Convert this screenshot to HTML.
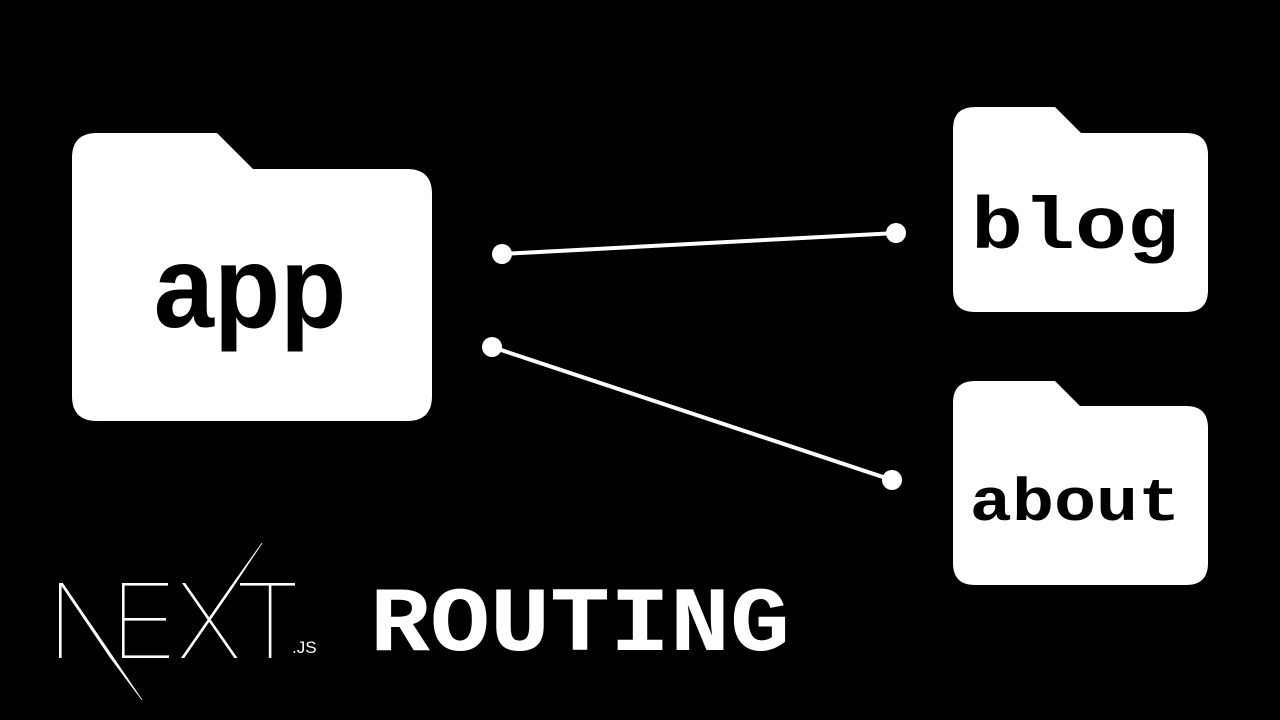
<!DOCTYPE html>
<html>
<head>
<meta charset="utf-8">
<style>
html,body{margin:0;padding:0;background:#000;width:1280px;height:720px;overflow:hidden;}
svg{display:block;}
</style>
</head>
<body>
<svg width="1280" height="720" viewBox="0 0 1280 720" xmlns="http://www.w3.org/2000/svg">
  <rect x="0" y="0" width="1280" height="720" fill="#000"/>

  <!-- app folder -->
  <path fill="#fff" d="M97,133 L217,133 L253,169 L407,169 Q432,169 432,194 L432,396 Q432,421 407,421 L97,421 Q72,421 72,396 L72,158 Q72,133 97,133 Z"/>
  <text transform="translate(250,327) scale(0.95,1.03)" font-family="'Liberation Sans', Arial, sans-serif" font-weight="bold" font-size="114" text-anchor="middle" fill="#000">app</text>

  <!-- blog folder -->
  <path fill="#fff" d="M975,107 L1055,107 L1081,133 L1186,133 Q1208,133 1208,155 L1208,290 Q1208,312 1186,312 L975,312 Q953,312 953,290 L953,129 Q953,107 975,107 Z"/>
  <text transform="translate(1075,248) scale(1.14,0.97)" font-family="'Liberation Mono', monospace" font-weight="bold" font-size="76" text-anchor="middle" fill="#000">blog</text>

  <!-- about folder -->
  <path fill="#fff" d="M975,381 L1055,381 L1080,406 L1186,406 Q1208,406 1208,428 L1208,563 Q1208,585 1186,585 L975,585 Q953,585 953,563 L953,403 Q953,381 975,381 Z"/>
  <text transform="translate(1075,520) scale(1.17,1)" font-family="'Liberation Mono', monospace" font-weight="bold" font-size="60" text-anchor="middle" fill="#000">about</text>

  <!-- connectors -->
  <line x1="502" y1="254" x2="896" y2="233" stroke="#fff" stroke-width="4"/>
  <circle cx="502" cy="254" r="10" fill="#fff"/>
  <circle cx="896" cy="233" r="10" fill="#fff"/>
  <line x1="492" y1="347" x2="892" y2="480" stroke="#fff" stroke-width="4"/>
  <circle cx="492" cy="347" r="10" fill="#fff"/>
  <circle cx="892" cy="480" r="10" fill="#fff"/>

  <!-- NEXT.js logo -->
  <g fill="#fff" stroke="none">
    <rect x="59" y="583" width="2.6" height="75"/>
    <polygon points="59.5,583 62.8,583 112,655 142.5,700 141.6,700 109.5,657"/>
    <rect x="122" y="583" width="2.6" height="75"/>
    <rect x="122" y="583" width="46" height="2.6"/>
    <rect x="122" y="618" width="44" height="2.6"/>
    <rect x="122" y="655.4" width="47" height="2.6"/>
    <polygon points="182,583 185.2,583 237.5,658 234.3,658"/>
    <polygon points="181,658 184.2,658 232,589 262.5,543 261.6,543 229.5,588"/>
    <rect x="240" y="583" width="55" height="2.6"/>
    <rect x="268.8" y="583" width="2.6" height="75"/>
  </g>
  <text x="292" y="653" font-family="'Liberation Sans', Arial, sans-serif" font-size="17" fill="#fff">.JS</text>

  <!-- ROUTING -->
  <text transform="translate(370,650) scale(1,0.92)" font-family="'Liberation Mono', monospace" font-weight="bold" font-size="100" fill="#fff">ROUTING</text>
</svg>
</body>
</html>
